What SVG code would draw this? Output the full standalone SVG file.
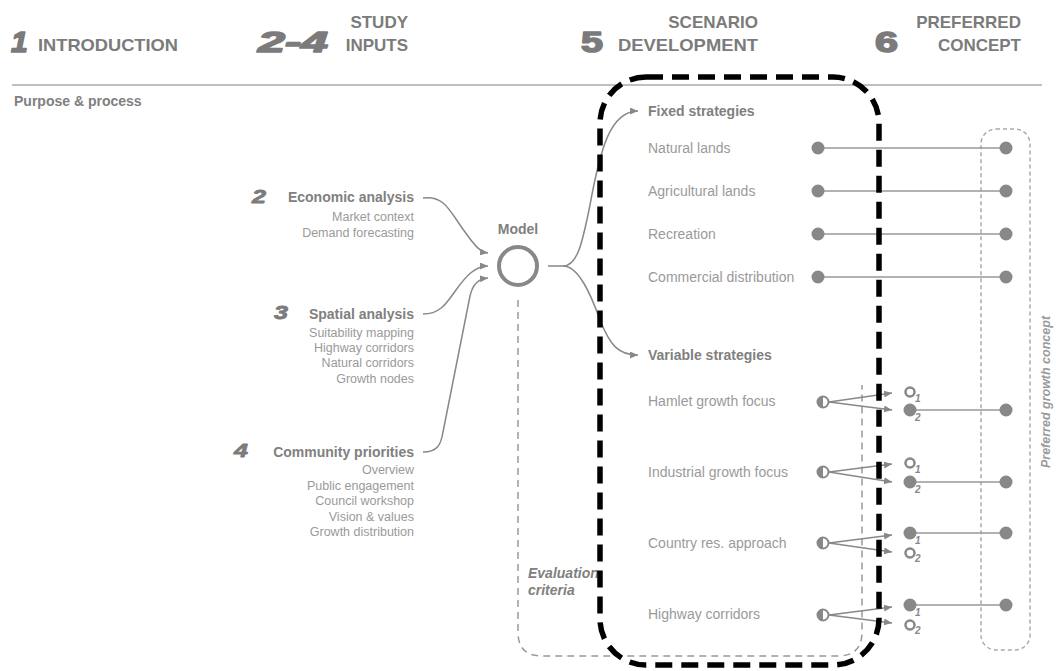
<svg xmlns="http://www.w3.org/2000/svg" width="1056" height="671" viewBox="0 0 1056 671">
<defs>
<style>
.hd{font-family:"Liberation Sans",Arial,sans-serif;font-weight:bold;fill:#7b7b7b}
.num{font-family:"Liberation Sans",Arial,sans-serif;font-weight:bold;fill:#7b7b7b;font-size:30px;stroke:#7b7b7b;stroke-width:1.6;stroke-linejoin:round}
.sn{font-family:"Liberation Sans",Arial,sans-serif;font-weight:bold;fill:#7b7b7b;font-size:19px;font-style:italic;stroke:#7b7b7b;stroke-width:0.8;stroke-linejoin:round}
.bl{font-family:"Liberation Sans",Arial,sans-serif;font-weight:bold;fill:#808080;font-size:14px}
.sub{font-family:"Liberation Sans",Arial,sans-serif;fill:#9a9a9a;font-size:12.5px}
.it{font-family:"Liberation Sans",Arial,sans-serif;fill:#9a9a9a;font-size:14px}
.idx{font-family:"Liberation Sans",Arial,sans-serif;font-weight:bold;font-style:italic;fill:#888;font-size:10px}
.con{fill:none;stroke:#888;stroke-width:1.5}
.lnk{fill:none;stroke:#999;stroke-width:1.6}
.dot{fill:#888}
.open{fill:#fff;stroke:#888;stroke-width:2.5}
</style>
<marker id="ah" markerWidth="9" markerHeight="8" refX="8" refY="3.5" orient="auto" markerUnits="userSpaceOnUse">
<path d="M0,0 L8,3.5 L0,7 Z" fill="#888"/>
</marker>
</defs>

<g id="header">
<text class="num" x="11" y="52" font-style="italic">1</text>
<text class="hd" x="38" y="51" font-size="17" textLength="140" lengthAdjust="spacingAndGlyphs">INTRODUCTION</text>
<text class="num" x="258" y="52" font-style="italic" textLength="70" lengthAdjust="spacingAndGlyphs">2-4</text>
<text class="hd" x="408" y="28" font-size="17" text-anchor="end">STUDY</text>
<text class="hd" x="408" y="51" font-size="17" text-anchor="end">INPUTS</text>
<text class="num" x="581" y="52" textLength="22" lengthAdjust="spacingAndGlyphs">5</text>
<text class="hd" x="758" y="28" font-size="17" text-anchor="end">SCENARIO</text>
<text class="hd" x="758" y="51" font-size="17" text-anchor="end" textLength="140" lengthAdjust="spacingAndGlyphs">DEVELOPMENT</text>
<text class="num" x="875" y="52" textLength="23" lengthAdjust="spacingAndGlyphs">6</text>
<text class="hd" x="1021" y="28" font-size="17" text-anchor="end">PREFERRED</text>
<text class="hd" x="1021" y="51" font-size="17" text-anchor="end">CONCEPT</text>
<line x1="12" y1="85" x2="1042" y2="85" stroke="#aaa" stroke-width="1.5"/>
<text class="bl" x="14" y="106" font-size="11.5">Purpose &amp; process</text>
</g>

<g id="connectors">
<path class="con" d="M423,198 C445,195 450,212 465,232 C475,246 480,252 488,253" marker-end="url(#ah)"/>
<path class="con" d="M423,314 C440,314 446,304 456,290 C466,276 475,266 488,266" marker-end="url(#ah)"/>
<path class="con" d="M423,452 C438,452 441,444 443,432 L470,296 C473,283 479,279 488,278" marker-end="url(#ah)"/>
<path class="con" d="M548,266 H563 C577,266 582,245 590,205 C600,150 610,111 638,111" marker-end="url(#ah)"/>
<path class="con" d="M563,266 C578,266 590,292 600,320 C610,345 618,355 638,355" marker-end="url(#ah)"/>
<path d="M518,300 V632 Q518,656 542,656 H838 Q862,656 862,632 V385" fill="none" stroke="#999" stroke-width="1.5" stroke-dasharray="7 5"/>
<rect x="981" y="129" width="49" height="521" rx="15" fill="none" stroke="#aaa" stroke-width="1.5" stroke-dasharray="4 3"/>
<line class="lnk" x1="818" y1="148" x2="1006" y2="148"/>
<line class="lnk" x1="818" y1="191" x2="1006" y2="191"/>
<line class="lnk" x1="818" y1="234" x2="1006" y2="234"/>
<line class="lnk" x1="818" y1="277" x2="1006" y2="277"/>
<line class="con" x1="829" y1="402" x2="892" y2="393" marker-end="url(#ah)"/>
<line class="con" x1="829" y1="402" x2="892" y2="410" marker-end="url(#ah)"/>
<line class="con" x1="829" y1="472" x2="892" y2="464" marker-end="url(#ah)"/>
<line class="con" x1="829" y1="472" x2="892" y2="482" marker-end="url(#ah)"/>
<line class="con" x1="829" y1="543" x2="892" y2="535" marker-end="url(#ah)"/>
<line class="con" x1="829" y1="543" x2="892" y2="552" marker-end="url(#ah)"/>
<line class="con" x1="829" y1="615" x2="892" y2="607" marker-end="url(#ah)"/>
<line class="con" x1="829" y1="615" x2="892" y2="623" marker-end="url(#ah)"/>
<line class="lnk" x1="910" y1="410" x2="1006" y2="410"/>
<line class="lnk" x1="910" y1="482" x2="1006" y2="482"/>
<line class="lnk" x1="910" y1="533" x2="1006" y2="533"/>
<line class="lnk" x1="910" y1="605" x2="1006" y2="605"/>
</g>

<g id="economic">
<text class="sn" x="252" y="203" textLength="14" lengthAdjust="spacingAndGlyphs">2</text>
<text class="bl" x="414" y="202" text-anchor="end" font-size="14.5">Economic analysis</text>
<text class="sub" x="414" y="221" text-anchor="end">Market context</text>
<text class="sub" x="414" y="237" text-anchor="end">Demand forecasting</text>
</g>
<g id="spatial">
<text class="sn" x="274" y="319" textLength="14" lengthAdjust="spacingAndGlyphs">3</text>
<text class="bl" x="414" y="319" text-anchor="end" font-size="14.5">Spatial analysis</text>
<text class="sub" x="414" y="337" text-anchor="end">Suitability mapping</text>
<text class="sub" x="414" y="352" text-anchor="end">Highway corridors</text>
<text class="sub" x="414" y="367" text-anchor="end">Natural corridors</text>
<text class="sub" x="414" y="383" text-anchor="end">Growth nodes</text>
</g>
<g id="community">
<text class="sn" x="234" y="457" textLength="14" lengthAdjust="spacingAndGlyphs">4</text>
<text class="bl" x="414" y="457" text-anchor="end" font-size="14.5">Community priorities</text>
<text class="sub" x="414" y="474" text-anchor="end">Overview</text>
<text class="sub" x="414" y="490" text-anchor="end">Public engagement</text>
<text class="sub" x="414" y="505" text-anchor="end">Council workshop</text>
<text class="sub" x="414" y="521" text-anchor="end">Vision &amp; values</text>
<text class="sub" x="414" y="536" text-anchor="end">Growth distribution</text>
</g>

<g id="model">
<text class="bl" x="518" y="234" text-anchor="middle">Model</text>
<circle cx="518" cy="266" r="19" fill="none" stroke="#888" stroke-width="4"/>
</g>

<g id="evaluation">
<text class="bl" x="528" y="578" font-size="12.5" font-style="italic" fill="#8c8c8c">Evaluation</text>
<text class="bl" x="528" y="595" font-size="12.5" font-style="italic" fill="#8c8c8c">criteria</text>
</g>

<g id="fixed">
<text class="bl" x="648" y="116">Fixed strategies</text>
<text class="it" x="648" y="153">Natural lands</text>
<text class="it" x="648" y="196">Agricultural lands</text>
<text class="it" x="648" y="239">Recreation</text>
<text class="it" x="648" y="282">Commercial distribution</text>
<circle class="dot" cx="818" cy="148" r="6.5"/><circle class="dot" cx="1006" cy="148" r="6.5"/>
<circle class="dot" cx="818" cy="191" r="6.5"/><circle class="dot" cx="1006" cy="191" r="6.5"/>
<circle class="dot" cx="818" cy="234" r="6.5"/><circle class="dot" cx="1006" cy="234" r="6.5"/>
<circle class="dot" cx="818" cy="277" r="6.5"/><circle class="dot" cx="1006" cy="277" r="6.5"/>
</g>

<g id="variable">
<text class="bl" x="648" y="360">Variable strategies</text>
<text class="it" x="648" y="406">Hamlet growth focus</text>
<text class="it" x="648" y="477">Industrial growth focus</text>
<text class="it" x="648" y="548">Country res. approach</text>
<text class="it" x="648" y="619">Highway corridors</text>

<g id="hamlet">
<circle cx="823" cy="402" r="5.5" fill="#fff" stroke="#888" stroke-width="2"/>
<path d="M823,396.5 A5.5,5.5 0 0 0 823,407.5 Z" fill="#888"/>
<circle class="open" cx="910" cy="392" r="4.5"/><text class="idx" x="915" y="402">1</text>
<circle class="dot" cx="910" cy="410" r="6.5"/><text class="idx" x="915" y="421">2</text>
<circle class="dot" cx="1006" cy="410" r="6.5"/>
</g>
<g id="industrial">
<circle cx="823" cy="472" r="5.5" fill="#fff" stroke="#888" stroke-width="2"/>
<path d="M823,466.5 A5.5,5.5 0 0 0 823,477.5 Z" fill="#888"/>
<circle class="open" cx="910" cy="463" r="4.5"/><text class="idx" x="915" y="473">1</text>
<circle class="dot" cx="910" cy="482" r="6.5"/><text class="idx" x="915" y="493">2</text>
<circle class="dot" cx="1006" cy="482" r="6.5"/>
</g>
<g id="country">
<circle cx="823" cy="543" r="5.5" fill="#fff" stroke="#888" stroke-width="2"/>
<path d="M823,537.5 A5.5,5.5 0 0 0 823,548.5 Z" fill="#888"/>
<circle class="dot" cx="910" cy="533" r="6.5"/><text class="idx" x="915" y="544">1</text>
<circle class="open" cx="910" cy="553" r="4.5"/><text class="idx" x="915" y="562">2</text>
<circle class="dot" cx="1006" cy="533" r="6.5"/>
</g>
<g id="highway">
<circle cx="823" cy="615" r="5.5" fill="#fff" stroke="#888" stroke-width="2"/>
<path d="M823,609.5 A5.5,5.5 0 0 0 823,620.5 Z" fill="#888"/>
<circle class="dot" cx="910" cy="605" r="6.5"/><text class="idx" x="915" y="616">1</text>
<circle class="open" cx="910" cy="625" r="4.5"/><text class="idx" x="915" y="634">2</text>
<circle class="dot" cx="1006" cy="605" r="6.5"/>
</g>
</g>

<g id="preferred">
<text transform="translate(1050,392) rotate(-90)" text-anchor="middle" font-family="Liberation Sans, Arial, sans-serif" font-weight="bold" font-style="italic" font-size="12.5" fill="#9a9a9a">Preferred growth concept</text>
</g>

<g id="highlight">
<rect x="600" y="77" width="279" height="588" rx="46" fill="none" stroke="#000" stroke-width="5.5" stroke-dasharray="17 9"/>
</g>
</svg>
